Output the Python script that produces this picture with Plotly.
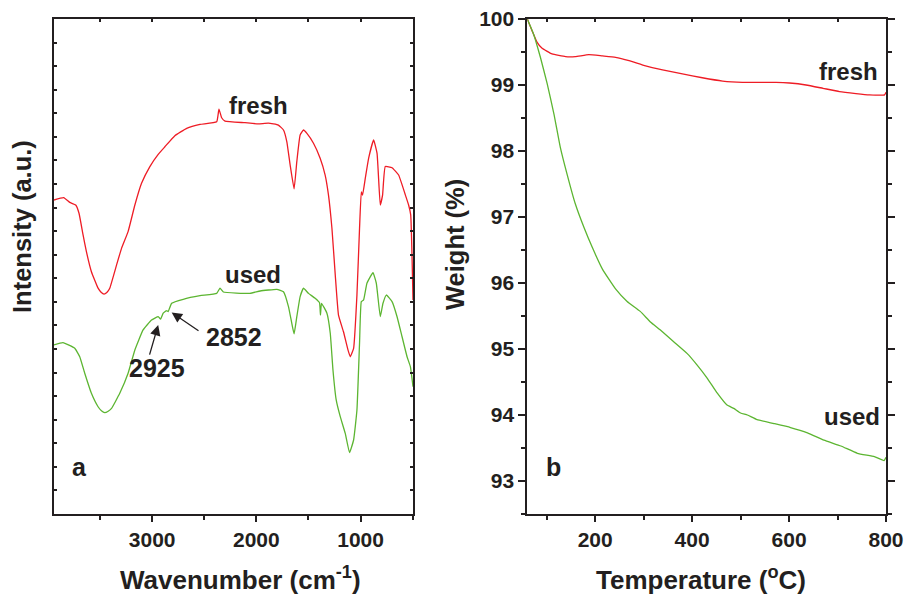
import plotly.graph_objects as go

# ---------------- FTIR data (panel a) ----------------
fresh_wn = [3942, 3849, 3791, 3734, 3702, 3663, 3631, 3583, 3519, 3490, 3462, 3435, 3407, 3342,
            3294, 3231, 3166, 3102, 3022, 2942, 2878, 2782, 2669, 2541, 2381, 2359, 2333, 2301,
            2109, 1981, 1885, 1789, 1740, 1708, 1676, 1638, 1612, 1580, 1548, 1515, 1452, 1388,
            1340, 1308, 1275, 1243, 1212, 1164, 1121, 1099, 1067, 1035, 1010, 993, 981, 955, 923,
            875, 842, 811, 789, 763, 698, 635, 570, 539, 519, 497]
fresh_int = [13.32, 13.42, 13.22, 13.11, 12.76, 11.84, 11.13, 10.28, 9.58, 9.41, 9.33, 9.40, 9.58,
             10.56, 11.27, 11.98, 13.11, 14.03, 14.74, 15.26, 15.58, 16.05, 16.36, 16.53, 16.64,
             17.18, 16.81, 16.67, 16.60, 16.55, 16.58, 16.50, 16.29, 15.80, 14.81, 13.79, 14.95,
             16.08, 16.29, 16.15, 15.73, 15.09, 14.38, 13.53, 12.12, 10.14, 8.44, 7.73, 6.96,
             6.67, 7.03, 9.29, 12.12, 13.67, 13.53, 14.24, 15.09, 15.87, 15.30, 13.11, 13.53,
             14.74, 14.69, 14.38, 13.53, 13.11, 12.69, 9.08]

used_wn = [3942, 3856, 3743, 3695, 3647, 3583, 3519, 3487, 3455, 3422, 3390, 3311, 3231, 3166,
           3087, 3006, 2942, 2919, 2894, 2862, 2846, 2813, 2702, 2541, 2381, 2349, 2317, 2061,
           1964, 1804, 1740, 1692, 1660, 1638, 1612, 1580, 1548, 1500, 1436, 1394, 1385, 1375,
           1323, 1291, 1265, 1234, 1195, 1147, 1106, 1067, 1035, 1010, 993, 971, 939, 881, 849,
           811, 785, 753, 698, 650, 602, 554, 522, 497]
used_int = [7.17, 7.27, 7.03, 6.67, 5.97, 5.12, 4.55, 4.38, 4.30, 4.36, 4.48, 5.12, 5.97, 6.96,
            7.81, 8.23, 8.37, 8.27, 8.52, 8.63, 8.59, 8.94, 9.11, 9.26, 9.36, 9.58, 9.42, 9.36,
            9.46, 9.53, 9.43, 8.80, 8.09, 7.64, 8.37, 9.22, 9.58, 9.36, 9.15, 8.96, 8.44, 8.94,
            8.52, 7.67, 6.11, 4.84, 4.13, 3.42, 2.60, 3.14, 4.41, 7.24, 9.01, 9.08, 9.79, 10.24,
            9.79, 8.37, 8.94, 9.29, 9.01, 8.37, 7.52, 6.67, 6.25, 5.40]

# ---------------- TGA data (panel b) ----------------
fresh_T = [60, 70, 80, 90, 111, 139, 159, 187, 215, 242, 270, 304, 339, 380, 421, 463, 504, 545,
           573, 601, 635, 670, 704, 738, 766, 797, 800]
fresh_W = [100.0, 99.82, 99.65, 99.56, 99.47, 99.43, 99.43, 99.46, 99.44, 99.42, 99.37, 99.29,
           99.23, 99.17, 99.11, 99.06, 99.04, 99.04, 99.04, 99.03, 99.00, 98.95, 98.90, 98.87,
           98.85, 98.85, 98.89]

used_T = [60, 73, 87, 101, 115, 128, 142, 159, 177, 194, 215, 242, 266, 293, 314, 334, 362, 390,
          410, 431, 452, 472, 486, 500, 514, 534, 569, 603, 638, 672, 707, 741, 776, 796, 800]
used_W = [100.0, 99.77, 99.42, 99.02, 98.56, 98.06, 97.65, 97.20, 96.84, 96.54, 96.21, 95.91,
          95.72, 95.57, 95.41, 95.29, 95.11, 94.93, 94.76, 94.56, 94.33, 94.15, 94.10, 94.03,
          94.00, 93.93, 93.87, 93.81, 93.73, 93.62, 93.53, 93.42, 93.37, 93.31, 93.36]

x1_range = [3942, 497]
y1_range = [0, 21]
x2_range = [60, 800]
y2_range = [92.5, 100]

RED = "#ee1c25"
GREEN = "#5cb531"
INK = "#231f20"
FONT = "Liberation Sans"

W, H = 905, 596
def px(x):
    return x / W
def py(y):
    return 1 - y / H

LW = 1.3
fig = go.Figure()
fig.add_trace(go.Scatter(x=fresh_wn, y=fresh_int, mode="lines",
                         line=dict(color=RED, width=LW, shape="spline", smoothing=0.35),
                         xaxis="x", yaxis="y", showlegend=False))
fig.add_trace(go.Scatter(x=used_wn, y=used_int, mode="lines",
                         line=dict(color=GREEN, width=LW, shape="spline", smoothing=0.35),
                         xaxis="x", yaxis="y", showlegend=False))
fig.add_trace(go.Scatter(x=fresh_T, y=fresh_W, mode="lines",
                         line=dict(color=RED, width=LW, shape="spline", smoothing=0.4),
                         xaxis="x2", yaxis="y2", showlegend=False))
fig.add_trace(go.Scatter(x=used_T, y=used_W, mode="lines",
                         line=dict(color=GREEN, width=LW, shape="spline", smoothing=0.4),
                         xaxis="x2", yaxis="y2", showlegend=False))
# empty traces to activate the top tick axes
fig.add_trace(go.Scatter(x=[], y=[], xaxis="x3", yaxis="y", showlegend=False))
fig.add_trace(go.Scatter(x=[], y=[], xaxis="x4", yaxis="y2", showlegend=False))

tickfont = dict(family=FONT, size=21, color=INK, weight="bold")
dom_y = [py(514), py(19)]
dom_x1 = [px(54), px(413)]
dom_x2 = [px(527.3), px(886)]

common_line = dict(showline=True, linecolor=INK, linewidth=1.8, showgrid=False, zeroline=False,
                   automargin=False)

fig.update_layout(
    width=W, height=H,
    margin=dict(l=0, r=0, t=0, b=0, autoexpand=False),
    paper_bgcolor="white", plot_bgcolor="white",
    xaxis=dict(domain=dom_x1, range=x1_range, anchor="y", mirror=True,
               tickmode="linear", tick0=0, dtick=1000, ticks="outside", ticklen=6, tickwidth=1.5,
               tickcolor=INK, tickfont=tickfont,
               minor=dict(dtick=500, tick0=0, ticks="outside", ticklen=4, tickwidth=1.5, tickcolor=INK),
               **common_line),
    yaxis=dict(domain=dom_y, range=y1_range, anchor="x", mirror="ticks",
               tickmode="linear", tick0=0, dtick=1, ticks="inside", ticklen=3, tickwidth=1.5,
               tickcolor=INK, showticklabels=False, **common_line),
    xaxis3=dict(domain=dom_x1, range=x1_range, anchor="y", overlaying="x", side="top",
                tickmode="linear", tick0=0, dtick=500, ticks="inside", ticklen=3, tickwidth=1.5,
                tickcolor=INK, showticklabels=False, showline=False, showgrid=False, zeroline=False,
                automargin=False),
    xaxis2=dict(domain=dom_x2, range=x2_range, anchor="y2", mirror=True,
                tickmode="linear", tick0=0, dtick=200, ticks="outside", ticklen=6, tickwidth=1.5,
                tickcolor=INK, tickfont=tickfont,
                minor=dict(dtick=100, tick0=0, ticks="outside", ticklen=4, tickwidth=1.5, tickcolor=INK),
                **common_line),
    yaxis2=dict(domain=dom_y, range=y2_range, anchor="x2", mirror="ticks",
                tickmode="linear", tick0=0, dtick=1, ticks="outside", ticklen=7, tickwidth=1.5,
                tickcolor=INK, tickfont=tickfont,
                minor=dict(dtick=0.5, tick0=0, ticks="outside", ticklen=4, tickwidth=1.5, tickcolor=INK),
                **common_line),
    xaxis4=dict(domain=dom_x2, range=x2_range, anchor="y2", overlaying="x2", side="top",
                tickmode="linear", tick0=0, dtick=100, ticks="inside", ticklen=3, tickwidth=1.5,
                tickcolor=INK, showticklabels=False, showline=False, showgrid=False, zeroline=False,
                automargin=False),
)

def txt(s, size, **kw):
    d = dict(text=s, showarrow=False, font=dict(family=FONT, size=size, color=INK, weight="bold"))
    d.update(kw)
    return d

ann = [
    # axis titles
    txt("Intensity (a.u.)", 25.5, xref="paper", yref="paper", x=px(22), y=py(227), textangle=-90,
        xanchor="center", yanchor="middle"),
    txt("Weight (%)", 25.5, xref="paper", yref="paper", x=px(455), y=py(245), textangle=-90,
        xanchor="center", yanchor="middle"),
    txt("Wavenumber (cm<sup>-1</sup>)", 26, xref="paper", yref="paper", x=px(240.7), y=py(578),
        xanchor="center", yanchor="middle"),
    txt("Temperature (<sup>o</sup>C)", 26, xref="paper", yref="paper", x=px(701), y=py(578),
        xanchor="center", yanchor="middle"),
    # panel a labels
    txt("fresh", 24, xref="x", yref="y", x=1984, y=17.35, xanchor="center", yanchor="middle"),
    txt("used", 24, xref="x", yref="y", x=2032, y=10.15, xanchor="center", yanchor="middle"),
    txt("a", 25, xref="x", yref="y", x=3695, y=2.0, xanchor="center", yanchor="middle"),
    txt("2925", 25, xref="x", yref="y", x=2955, y=6.2, xanchor="center", yanchor="middle"),
    txt("2852", 25, xref="x", yref="y", x=2213, y=7.5, xanchor="center", yanchor="middle"),
    # panel b labels
    txt("fresh", 24, xref="x2", yref="y2", x=787, y=99.21, xanchor="right", yanchor="middle"),
    txt("used", 24, xref="x2", yref="y2", x=791, y=93.98, xanchor="right", yanchor="middle"),
    txt("b", 25, xref="x2", yref="y2", x=115, y=93.21, xanchor="center", yanchor="middle"),
    # arrows
    dict(text="", showarrow=True, xref="x", yref="y", axref="x", ayref="y",
         x=2942, y=8.02, ax=3029, ay=6.70, arrowhead=2, arrowsize=1.6, arrowwidth=1.3,
         arrowcolor=INK, standoff=0, startstandoff=0),
    dict(text="", showarrow=True, xref="x", yref="y", axref="x", ayref="y",
         x=2813, y=8.55, ax=2541, ay=7.73, arrowhead=2, arrowsize=1.6, arrowwidth=1.3,
         arrowcolor=INK, standoff=0, startstandoff=0),
]
fig.update_layout(annotations=ann)

fig.write_html("out.html")
